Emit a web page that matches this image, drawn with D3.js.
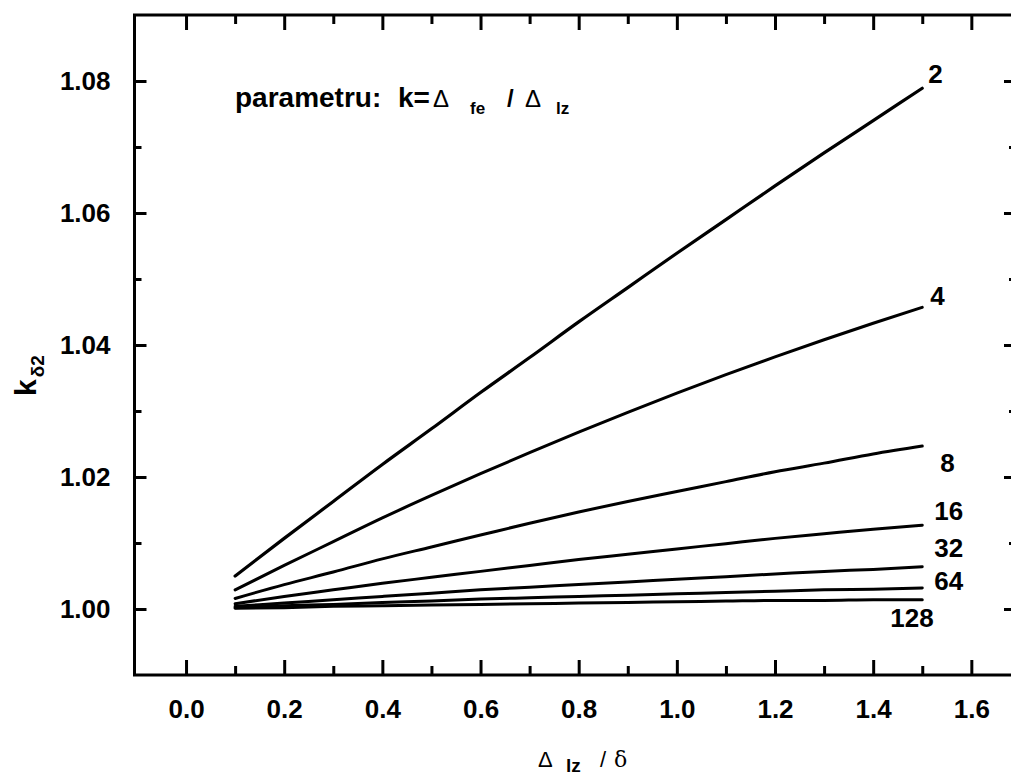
<!DOCTYPE html>
<html>
<head>
<meta charset="utf-8">
<script src="https://cdn.jsdelivr.net/npm/d3@7"></script>
<style>
  html, body { margin: 0; padding: 0; background: #fff; }
  svg { display: block; }
  text { font-family: "Liberation Sans", Arial, sans-serif; fill: #000; }
</style>
</head>
<body>
<svg id="chart" width="1011" height="777"></svg>
<script>
// ---------- data ----------
const xValues = [0.1, 0.2, 0.3, 0.4, 0.5, 0.6, 0.7, 0.8, 0.9, 1.0, 1.1, 1.2, 1.3, 1.4, 1.5];
const kParams = ["2", "4", "8", "16", "32", "64", "128"];
const k2   = [1.0050, 1.0107, 1.0163, 1.0219, 1.0273, 1.0328, 1.0381, 1.0435, 1.0487, 1.0539, 1.0590, 1.0641, 1.0691, 1.0740, 1.0789];
const k4   = [1.0029, 1.0066, 1.0102, 1.0138, 1.0172, 1.0205, 1.0237, 1.0268, 1.0298, 1.0327, 1.0355, 1.0382, 1.0408, 1.0433, 1.0457];
const k8   = [1.0016, 1.0037, 1.0056, 1.0076, 1.0094, 1.0112, 1.0130, 1.0147, 1.0163, 1.0178, 1.0193, 1.0208, 1.0221, 1.0235, 1.0247];
const k16  = [1.0008, 1.0019, 1.0029, 1.0039, 1.0048, 1.0057, 1.0066, 1.0075, 1.0083, 1.0091, 1.0099, 1.0107, 1.0114, 1.0121, 1.0127];
const k32  = [1.0004, 1.0009, 1.0014, 1.0019, 1.0024, 1.0029, 1.0033, 1.0037, 1.0041, 1.0045, 1.0049, 1.0053, 1.0057, 1.0060, 1.0064];
const k64  = [1.0002, 1.0005, 1.0007, 1.0010, 1.0012, 1.0015, 1.0017, 1.0019, 1.0021, 1.0023, 1.0025, 1.0027, 1.0029, 1.0030, 1.0032];
const k128 = [1.0001, 1.0002, 1.0004, 1.0005, 1.0006, 1.0007, 1.0008, 1.0009, 1.0010, 1.0011, 1.0012, 1.0013, 1.0013, 1.0014, 1.0014];
const seriesValues = [k2, k4, k8, k16, k32, k64, k128];

const xMajorTicks = [0.0, 0.2, 0.4, 0.6, 0.8, 1.0, 1.2, 1.4, 1.6];
const xMinorTicks = [0.1, 0.3, 0.5, 0.7, 0.9, 1.1, 1.3, 1.5];
const yMajorTicks = [1.00, 1.02, 1.04, 1.06, 1.08];
const yMinorTicks = [1.01, 1.03, 1.05, 1.07];

// ---------- layout / style ----------
const svg = d3.select("#chart");
const X0 = 134.5, X1 = 1016, Y0 = 675, Y1 = 15;
const x = d3.scaleLinear().domain([-0.105, 1.691]).range([X0, X1]);
const y = d3.scaleLinear().domain([0.99, 1.09]).range([Y0, Y1]);

// label offsets relative to the end of each curve (style only)
const labelOffsets = [[6, -5], [8, -2], [18, 26], [12, -5], [12, -10], [12, 2], [-32, 27]];
const lineWidths = [3.2, 3, 3, 3, 3, 3, 3];

// ---------- axes ----------
const fmtX = d3.format(".1f"), fmtY = d3.format(".2f");
function styleAxis(g) {
  g.select(".domain").remove();
  g.selectAll(".tick line").attr("stroke", "#000").attr("stroke-width", 3);
  g.selectAll(".tick text").attr("font-size", 26).attr("font-weight", "bold").attr("fill", "#000");
}
// bottom
svg.append("g").attr("transform", `translate(0,${Y0})`)
  .call(d3.axisBottom(x).tickValues(xMajorTicks).tickSize(-15).tickPadding(25).tickFormat(fmtX))
  .call(styleAxis);
svg.append("g").attr("transform", `translate(0,${Y0})`)
  .call(d3.axisBottom(x).tickValues(xMinorTicks).tickSize(-9).tickFormat(""))
  .call(styleAxis);
// top
svg.append("g").attr("transform", `translate(0,${Y1})`)
  .call(d3.axisTop(x).tickValues(xMajorTicks).tickSize(-15).tickFormat(""))
  .call(styleAxis);
svg.append("g").attr("transform", `translate(0,${Y1})`)
  .call(d3.axisTop(x).tickValues(xMinorTicks).tickSize(-9).tickFormat(""))
  .call(styleAxis);
// left
svg.append("g").attr("transform", `translate(${X0},0)`)
  .call(d3.axisLeft(y).tickValues(yMajorTicks).tickSize(-12).tickPadding(24).tickFormat(fmtY))
  .call(styleAxis);
svg.append("g").attr("transform", `translate(${X0},0)`)
  .call(d3.axisLeft(y).tickValues(yMinorTicks).tickSize(-7).tickFormat(""))
  .call(styleAxis);
// right
svg.append("g").attr("transform", `translate(${X1},0)`)
  .call(d3.axisRight(y).tickValues(yMajorTicks).tickSize(-12).tickFormat(""))
  .call(styleAxis);
svg.append("g").attr("transform", `translate(${X1},0)`)
  .call(d3.axisRight(y).tickValues(yMinorTicks).tickSize(-7).tickFormat(""))
  .call(styleAxis);

// frame
svg.append("rect").attr("x", X0).attr("y", Y1).attr("width", X1 - X0).attr("height", Y0 - Y1)
  .attr("fill", "none").attr("stroke", "#000").attr("stroke-width", 3);

// ---------- curves ----------
const line = d3.line().x((d, i) => x(xValues[i])).y(d => y(d)).curve(d3.curveMonotoneX);
seriesValues.forEach((vals, si) => {
  svg.append("path").datum(vals).attr("d", line)
    .attr("fill", "none").attr("stroke", "#000").attr("stroke-width", lineWidths[si])
    .attr("stroke-linecap", "round").attr("stroke-linejoin", "round");
  const lastX = xValues[xValues.length - 1], lastY = vals[vals.length - 1];
  svg.append("text")
    .attr("x", x(lastX) + labelOffsets[si][0])
    .attr("y", y(lastY) + labelOffsets[si][1])
    .attr("font-size", 26).attr("font-weight", "bold")
    .text(kParams[si]);
});

// ---------- annotation ----------
const ann = svg.append("text").attr("y", 107).attr("font-size", 28).attr("font-weight", "bold");
ann.append("tspan").attr("x", 235).text("parametru:");
ann.append("tspan").attr("x", 398).text("k=");
ann.append("tspan").attr("x", 433).attr("font-size", 24).attr("font-weight", "normal").text("Δ");
ann.append("tspan").attr("x", 470).attr("font-size", 17).attr("dy", 7).text("fe");
ann.append("tspan").attr("x", 507).attr("font-size", 24).attr("dy", -7).text("/");
ann.append("tspan").attr("x", 525).attr("font-size", 24).attr("font-weight", "normal").text("Δ");
ann.append("tspan").attr("x", 556).attr("font-size", 17).attr("dy", 7).text("lz");

// ---------- axis titles ----------
const xt = svg.append("text").attr("y", 767).attr("font-size", 22);
xt.append("tspan").attr("x", 538).attr("font-weight", "normal").text("Δ");
xt.append("tspan").attr("x", 566).attr("font-size", 19).attr("font-weight", "bold").attr("dy", 5).text("lz");
xt.append("tspan").attr("x", 600).attr("font-size", 22).attr("dy", -5).text("/");
xt.append("tspan").attr("x", 614).attr("font-size", 22).attr("font-family", "DejaVu Serif, serif").text("δ");

const yt = svg.append("text").attr("transform", "translate(36,396) rotate(-90)")
  .attr("font-size", 30).attr("font-weight", "bold");
yt.append("tspan").text("k");
yt.append("tspan").attr("font-size", 19).attr("dx", 2).attr("dy", 8).text("δ2");
</script>
</body>
</html>
